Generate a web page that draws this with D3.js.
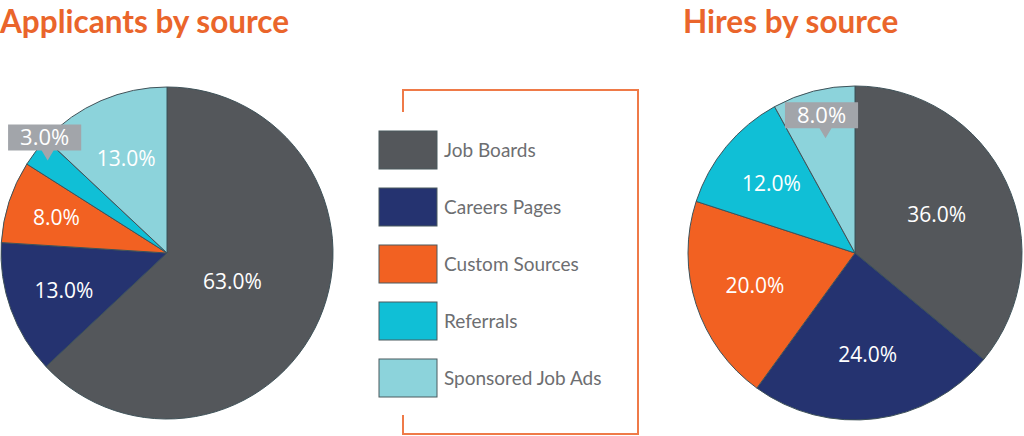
<!DOCTYPE html>
<html>
<head>
<meta charset="utf-8">
<script src="https://cdn.jsdelivr.net/npm/d3@7"></script>
<style>
  body { margin: 0; background: #fff; }
  svg { display: block; }
</style>
</head>
<body>
<div id="chart"></div>
<script>
// Categories shared by both pies
const categories = ["Job Boards", "Careers Pages", "Custom Sources", "Referrals", "Sponsored Job Ads"];
const colors = ["#54575b", "#253370", "#f26122", "#10bfd6", "#8cd3db"];

// Percent values
const applicantValues = [63, 13, 8, 3, 13];
const hireValues = [36, 24, 20, 12, 8];

const width = 1024, height = 436;

const svg = d3.select("#chart")
    .append("svg")
    .attr("width", width)
    .attr("height", height);

// Layout for each pie; labelR is a fraction of the radius per slice
const charts = [
    { title: "Applicants by source", values: applicantValues, titleX: 0,
      cx: 167, cy: 253, r: 166, callout: 3, calloutR: 0.91, boxShift: -3,
      labelR: [0.43, 0.66, 0.70, 0, 0.62] },
    { title: "Hires by source", values: hireValues, titleX: 683,
      cx: 855, cy: 253, r: 167, callout: 4, calloutR: 0.71, boxShift: -4,
      labelR: [0.54, 0.61, 0.63, 0.65, 0] }
];

const pie = d3.pie().sort(null).value(d => d);
const fmt = d => d3.format(".1f")(d) + "%";

charts.forEach(c => {
    svg.append("text")
        .attr("x", c.titleX).attr("y", 33)
        .text(c.title)
        .style("font-family", "Lato, 'Open Sans', sans-serif")
        .style("font-weight", "700")
        .style("font-size", "31.5px")
        .style("fill", "#ea652b");

    const g = svg.append("g")
        .attr("transform", "translate(" + c.cx + "," + c.cy + ")");

    const arcs = pie(c.values);
    const arc = d3.arc().innerRadius(0).outerRadius(c.r);

    g.selectAll("path.slice")
        .data(arcs)
        .enter().append("path")
        .attr("class", "slice")
        .attr("d", arc)
        .attr("fill", (d, i) => colors[i])
        .attr("stroke", "#3f5259")
        .attr("stroke-width", 1);

    arcs.forEach((d, i) => {
        const mid = (d.startAngle + d.endAngle) / 2;
        if (i === c.callout) {
            // gray callout box with a pointer whose tip sits in the slice
            const tx = Math.sin(mid) * c.r * c.calloutR;
            const ty = -Math.cos(mid) * c.r * c.calloutR;
            const cg = g.append("g").attr("transform", "translate(" + tx + "," + ty + ")");
            const box = cg.append("path").attr("fill", "#a2a5aa");
            const t = cg.append("text")
                .attr("x", c.boxShift)
                .attr("y", -23)
                .attr("text-anchor", "middle")
                .attr("dy", "0.36em")
                .text(fmt(d.data))
                .style("font-family", "'Open Sans', sans-serif")
                .style("font-size", "22px")
                .style("fill", "#fff");
            const bw = t.node().getComputedTextLength() + 24, bh = 26;
            const x0 = c.boxShift - bw / 2, x1 = c.boxShift + bw / 2;
            const y0 = -23 - bh / 2, y1 = -23 + bh / 2;
            box.attr("d", "M" + x0 + "," + y0 + "H" + x1 + "V" + y1 +
                     "H6L0,0L-6," + y1 + "H" + x0 + "Z");
        } else {
            const lr = c.r * c.labelR[i];
            g.append("text")
                .attr("x", Math.sin(mid) * lr)
                .attr("y", -Math.cos(mid) * lr)
                .attr("text-anchor", "middle")
                .attr("dy", "0.36em")
                .text(fmt(d.data))
                .style("font-family", "'Open Sans', sans-serif")
                .style("font-size", "21px")
                .style("fill", "#fff");
        }
    });
});

// Legend with orange bracket frame
const lx = 403, ly = 90, lw = 235, lh = 344;
svg.append("path")
    .attr("d", "M" + lx + "," + (ly + 22) + "V" + ly + "H" + (lx + lw) + "V" + (ly + lh) +
          "H" + lx + "V" + (ly + lh - 19))
    .attr("fill", "none")
    .attr("stroke", "#ef7a48")
    .attr("stroke-width", 2);

const legendY = d3.scalePoint()
    .domain(categories)
    .range([150, 378]);

const item = svg.selectAll("g.legend")
    .data(categories)
    .enter().append("g")
    .attr("class", "legend")
    .attr("transform", d => "translate(379," + legendY(d) + ")");

item.append("rect")
    .attr("x", 0).attr("y", -19)
    .attr("width", 58).attr("height", 38)
    .attr("fill", (d, i) => colors[i])
    .attr("stroke", "#4b5a5f")
    .attr("stroke-width", 1);

item.append("text")
    .attr("x", 65).attr("dy", "0.36em")
    .text(d => d)
    .style("font-family", "Lato, 'Open Sans', sans-serif")
    .style("font-size", "19px")
    .style("fill", "#6d6e71");
</script>
</body>
</html>
